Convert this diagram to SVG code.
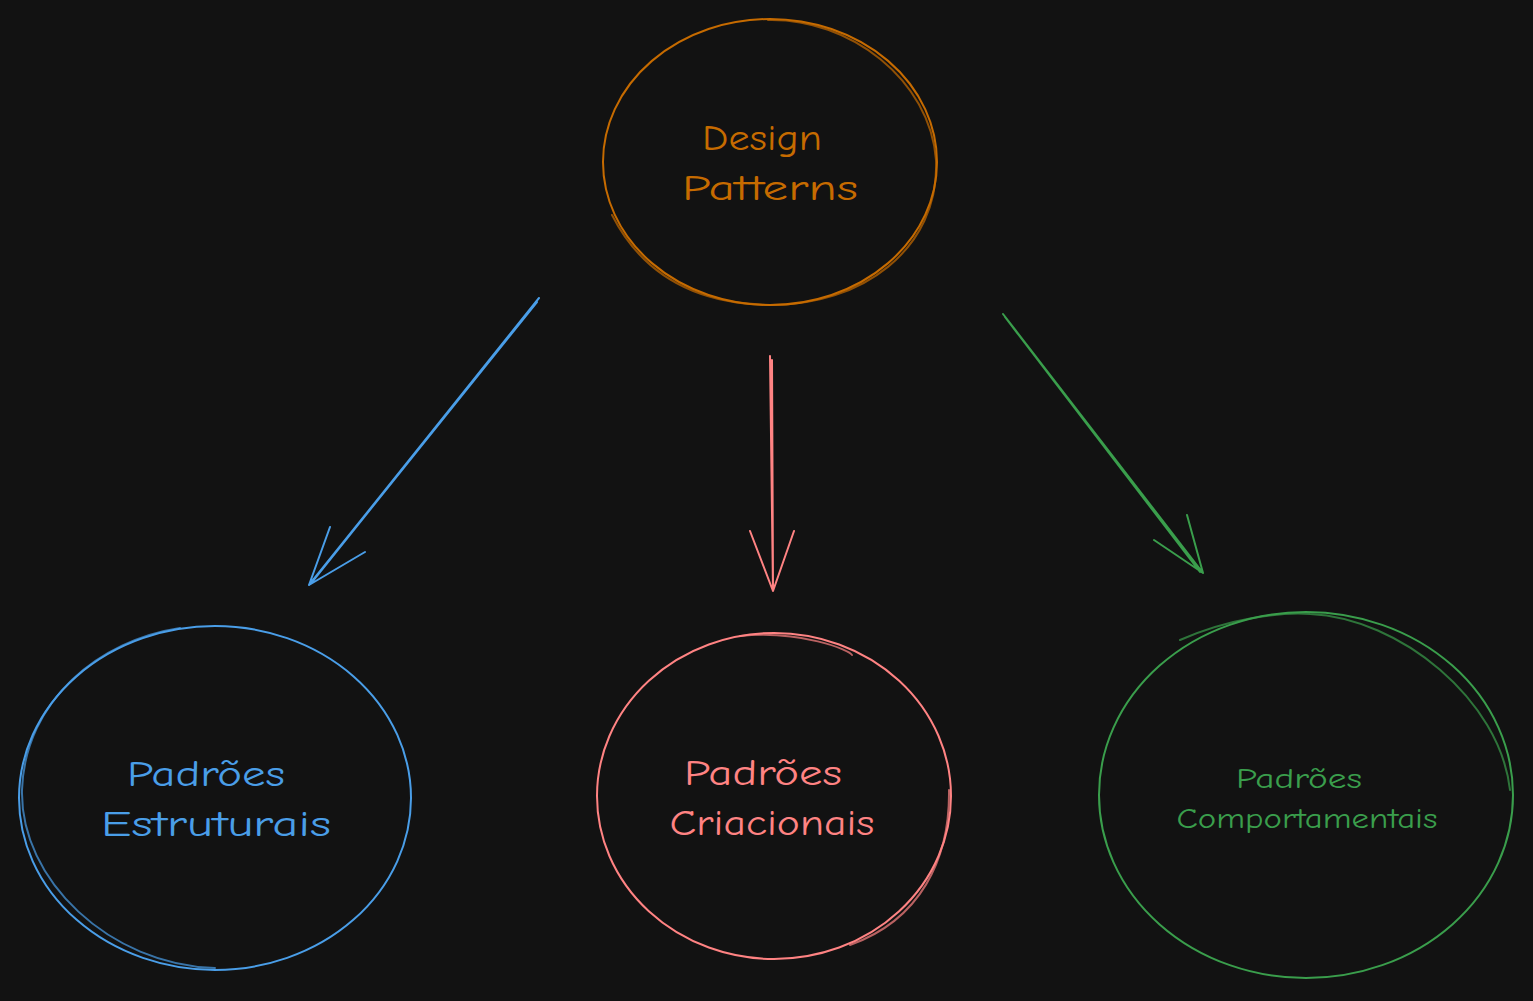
<svg xmlns="http://www.w3.org/2000/svg" width="1533" height="1001" viewBox="0 0 1533 1001">
<style>
.node{fill:none;stroke-width:2;stroke-linecap:round}
.lbl{font-family:"Comic Neue","Liberation Sans",sans-serif;text-anchor:middle}
.arr{fill:none;stroke-width:2;stroke-linecap:round;stroke-linejoin:round}
.o{stroke:#c66b00}.b{stroke:#4a9ee8}.p{stroke:#ff8383}.g{stroke:#3a9e4c}
</style>
<rect width="1533" height="1001" fill="#121212"/>
<g id="design-patterns">
<ellipse class="node o" cx="770" cy="162" rx="167" ry="143"/>
<path class="node o" d="M768 20 C850 18 930 80 936 160 C940 250 860 306 770 305 C690 304 640 270 612 215" opacity="0.7"/>
<text class="lbl" fill="#c66b00" font-size="36"><tspan x="762" y="150" textLength="120" lengthAdjust="spacingAndGlyphs">Design</tspan><tspan x="770" y="200" textLength="176" lengthAdjust="spacingAndGlyphs">Patterns</tspan></text>
</g>
<g id="estruturais">
<ellipse class="node b" cx="215" cy="798" rx="196" ry="172"/>
<path class="node b" d="M180 628 C100 640 25 700 22 790 C20 880 110 965 215 968" opacity="0.7"/>
<text class="lbl" fill="#4a9ee8" font-size="36"><tspan x="206" y="786" textLength="158" lengthAdjust="spacingAndGlyphs">Padrões</tspan><tspan x="216" y="836" textLength="230" lengthAdjust="spacingAndGlyphs">Estruturais</tspan></text>
</g>
<g id="criacionais">
<ellipse class="node p" cx="774" cy="796" rx="177" ry="163"/>
<path class="node p" d="M740 636 C800 630 850 650 852 655 M949 790 C950 860 920 920 850 945" opacity="0.7"/>
<text class="lbl" fill="#ff8383" font-size="36"><tspan x="763" y="785" textLength="158" lengthAdjust="spacingAndGlyphs">Padrões</tspan><tspan x="772" y="835" textLength="205" lengthAdjust="spacingAndGlyphs">Criacionais</tspan></text>
</g>
<g id="comportamentais">
<ellipse class="node g" cx="1306" cy="795" rx="207" ry="183"/>
<path class="node g" d="M1180 640 C1230 618 1280 612 1310 614 C1400 618 1500 700 1510 790" opacity="0.7"/>
<text class="lbl" fill="#3a9e4c" font-size="29"><tspan x="1299" y="788" textLength="126" lengthAdjust="spacingAndGlyphs">Padrões</tspan><tspan x="1307" y="828" textLength="261" lengthAdjust="spacingAndGlyphs">Comportamentais</tspan></text>
</g>
<g id="connectors">
<path class="arr b" d="M539 298 L309 585 M537 302 L312 582 M330 527 L309 585 L365 552"/>
<path class="arr p" d="M770 356 L773 591 M772 360 L773 588 M750 531 L773 591 L794 531"/>
<path class="arr g" d="M1003 314 L1203 573 M1005 317 L1200 572 M1187 515 L1203 573 L1154 540"/>
</g>
</svg>
